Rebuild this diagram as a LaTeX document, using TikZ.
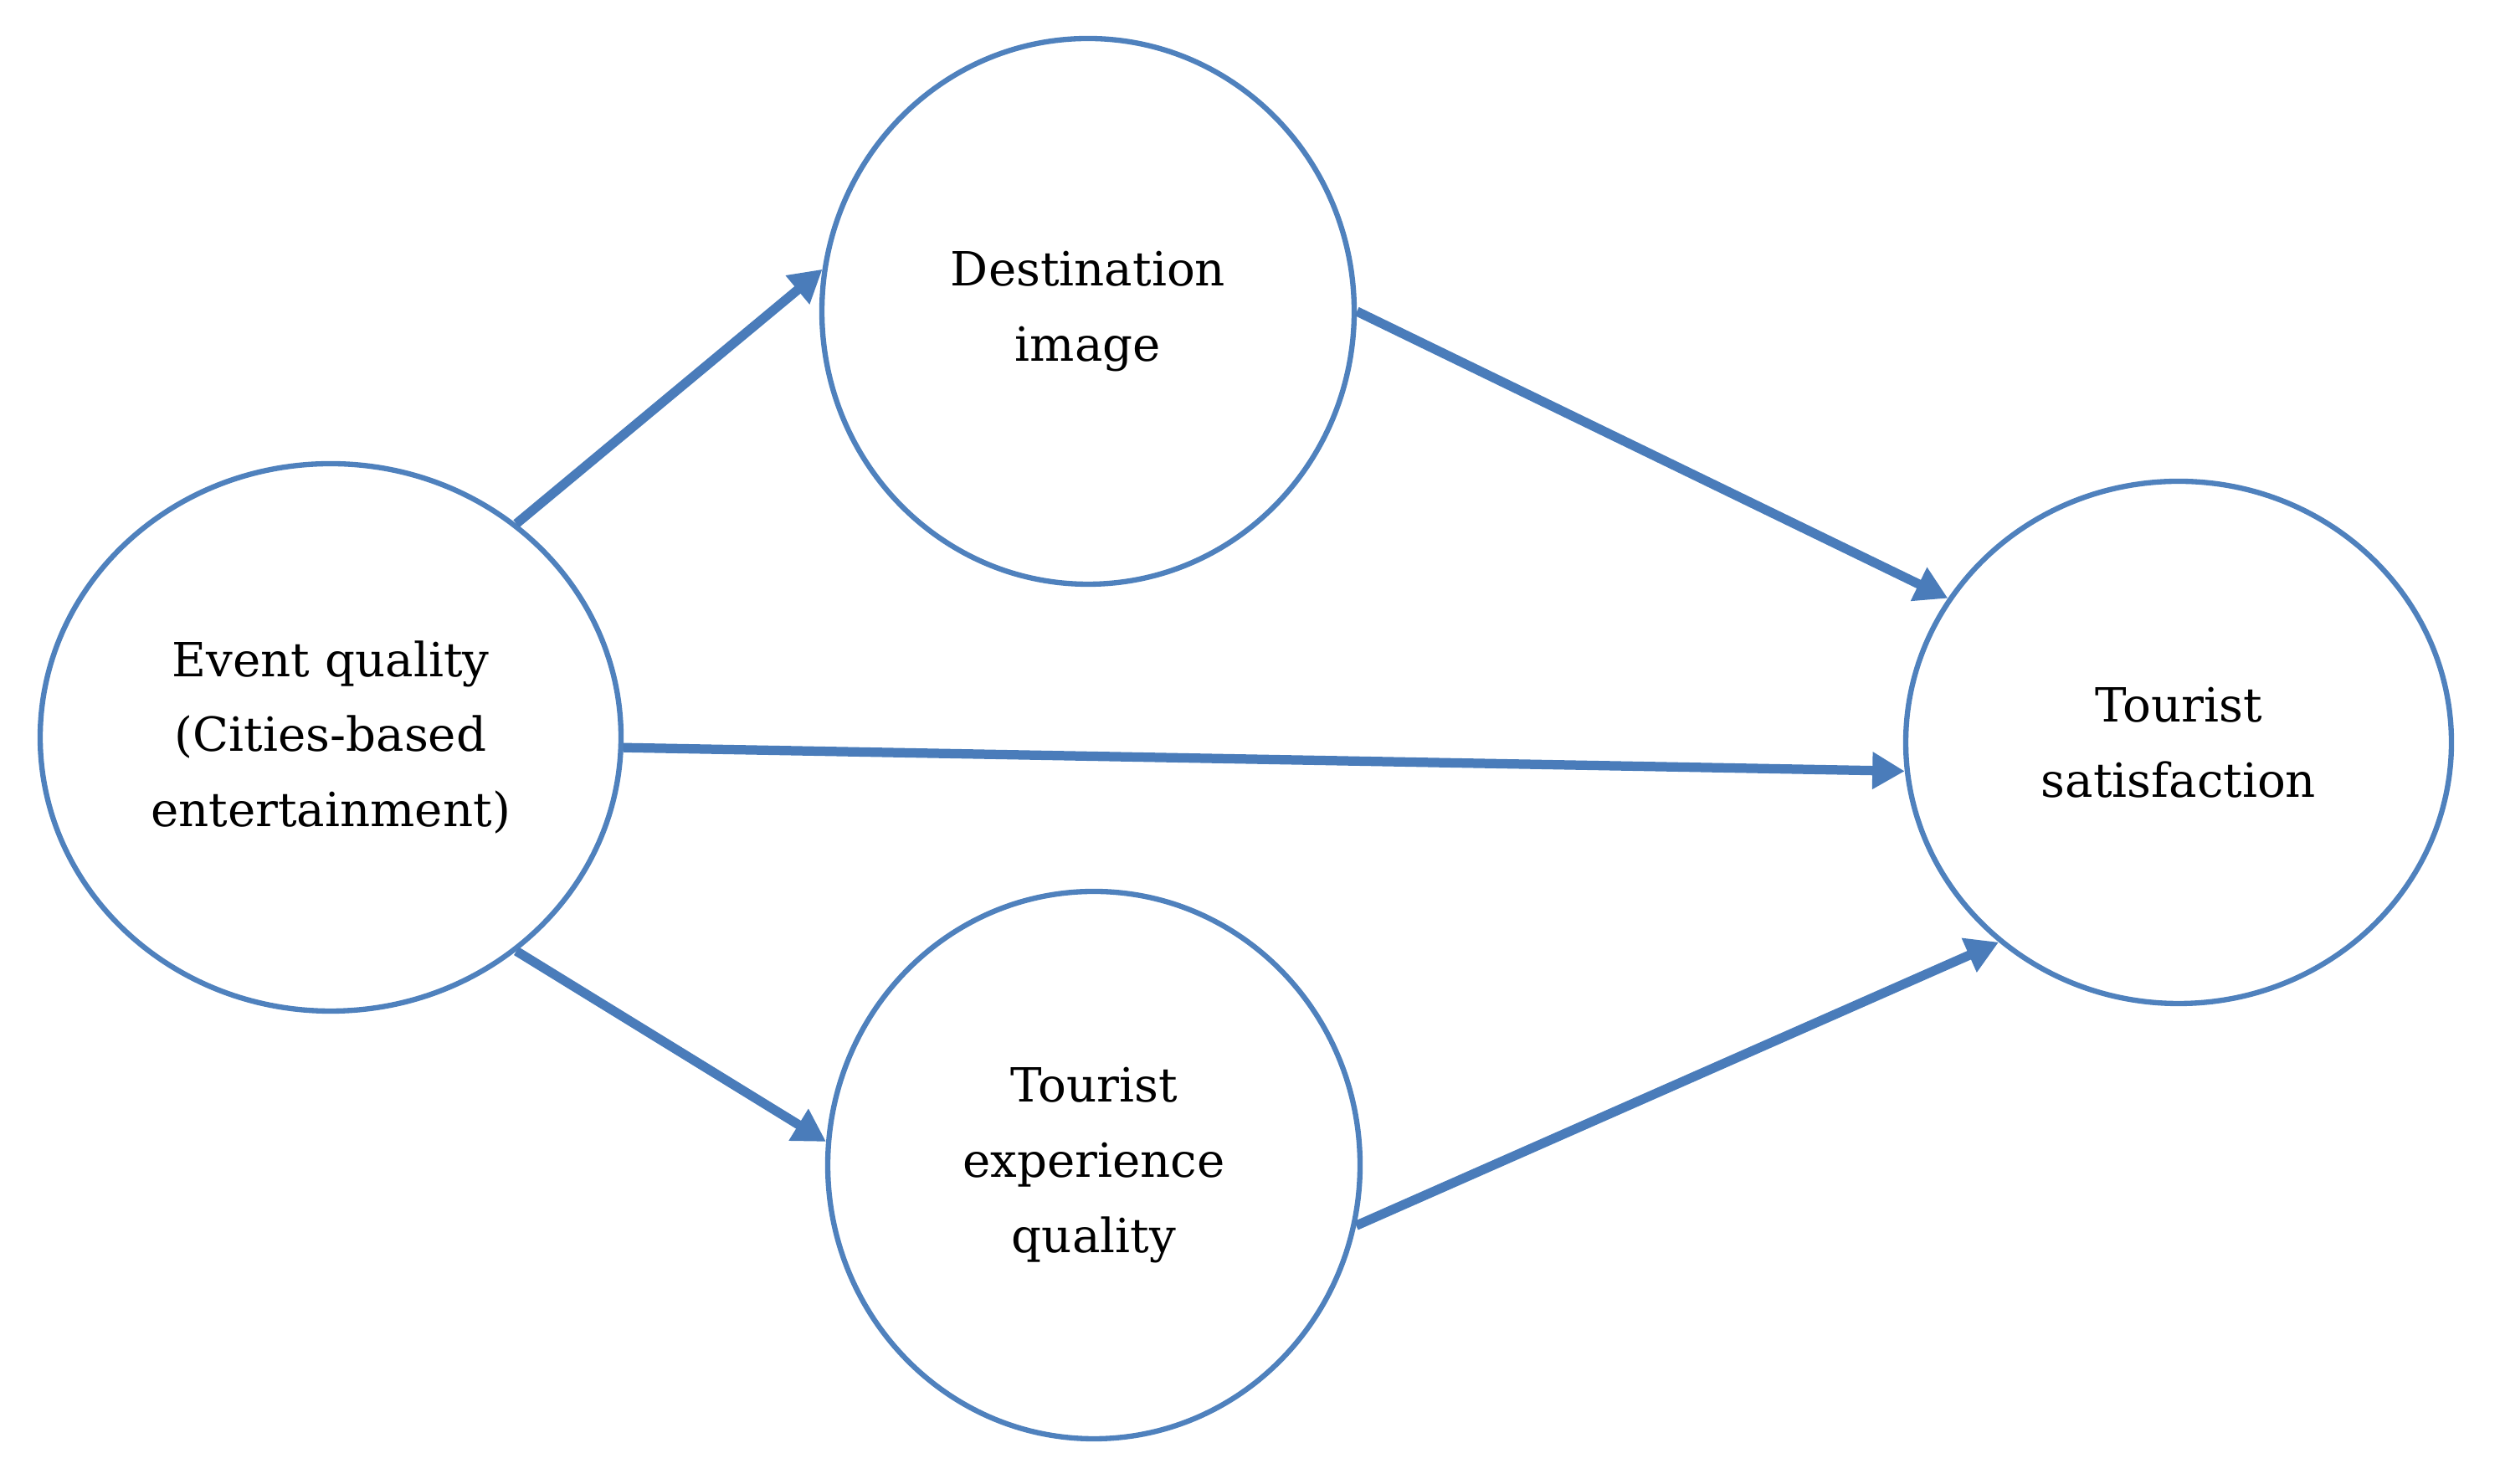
\documentclass[tikz,border=0pt]{standalone}
\usepackage{fontspec}
\setmainfont{DejaVu Serif}
\usetikzlibrary{arrows.meta,shapes.geometric}
\definecolor{accent}{RGB}{79,129,189}
\definecolor{arrowblue}{RGB}{74,124,186}
\tikzset{
  construct/.style={ellipse, draw=accent, line width=1.8pt, fill=white, inner sep=0pt,
    align=center, font=\fontsize{16}{25.5}\selectfont, text=black},
  path/.style={draw=arrowblue, line width=3.2pt, -{Triangle[length=11pt,width=12pt]}}
}
\begin{document}
\begin{tikzpicture}
\useasboundingbox (0,0) rectangle (29.93,17.73);
\node[construct, minimum width=6.94cm, minimum height=6.54cm] (E) at (3.95,8.92)
  {Event quality\\(Cities-based\\entertainment)};
\node[construct, minimum width=6.36cm, minimum height=6.52cm] (D) at (13.00,14.01)
  {Destination\\image};
\node[construct, minimum width=6.36cm, minimum height=6.54cm] (X) at (13.07,3.81)
  {Tourist\\experience\\quality};
\node[construct, minimum width=6.52cm, minimum height=6.24cm] (S) at (26.03,8.86)
  {Tourist\\satisfaction};
\draw[path] (E.49) -- (D.171);
\draw[path] (D.0) -- (S.148);
\draw[path] (E.-2) -- (S.186.6);
\draw[path] (E.-49) -- (X.175.5);
\draw[path] (X.-13) -- (S.228);
\end{tikzpicture}
\end{document}
